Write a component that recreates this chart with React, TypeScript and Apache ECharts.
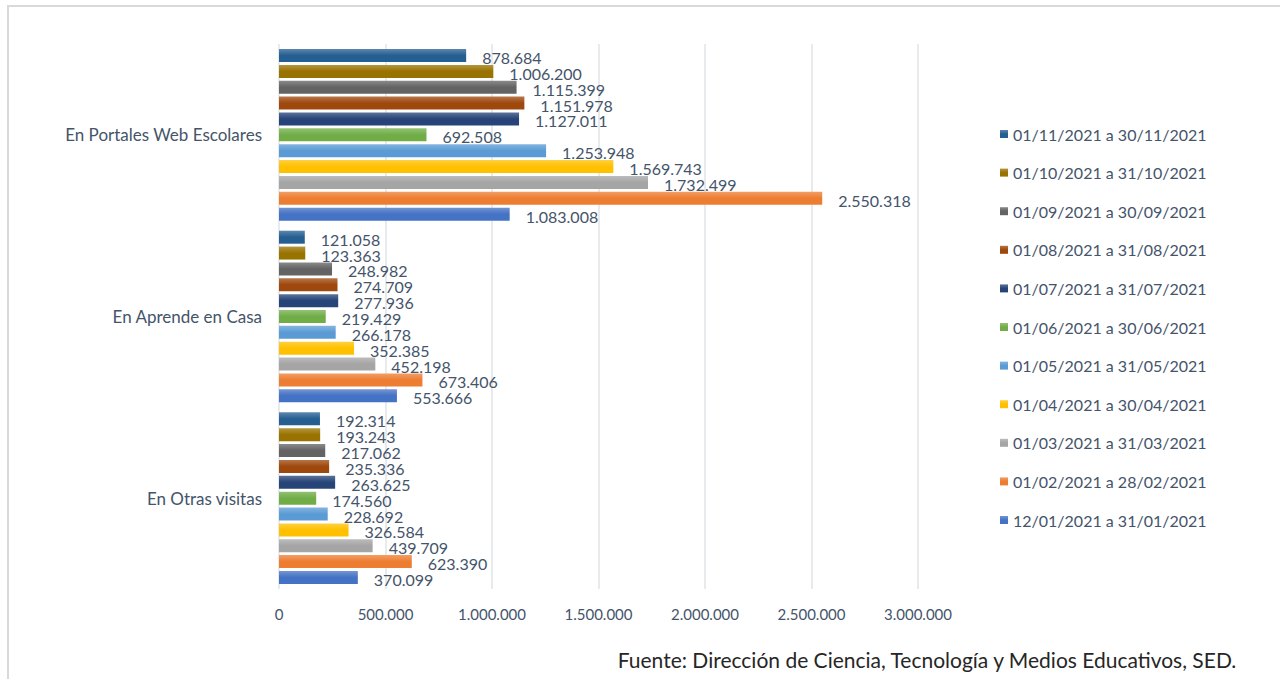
import React, { useEffect, useRef } from "react";
import * as echarts from "echarts";

const categories = ["En Portales Web Escolares", "En Aprende en Casa", "En Otras visitas"];

const seriesNames = [
  "01/11/2021 a 30/11/2021",
  "01/10/2021 a 31/10/2021",
  "01/09/2021 a 30/09/2021",
  "01/08/2021 a 31/08/2021",
  "01/07/2021 a 31/07/2021",
  "01/06/2021 a 30/06/2021",
  "01/05/2021 a 31/05/2021",
  "01/04/2021 a 30/04/2021",
  "01/03/2021 a 31/03/2021",
  "01/02/2021 a 28/02/2021",
  "12/01/2021 a 31/01/2021",
];

const seriesColors = [
  "#255E91", "#997300", "#636363", "#9E480E", "#264478", "#70AD47",
  "#5B9BD5", "#FFC000", "#A5A5A5", "#ED7D31", "#4472C4",
];

// values per series: [Portales, Aprende, Otras]
const values = [
  [878684, 121058, 192314],
  [1006200, 123363, 193243],
  [1115399, 248982, 217062],
  [1151978, 274709, 235336],
  [1127011, 277936, 263625],
  [692508, 219429, 174560],
  [1253948, 266178, 228692],
  [1569743, 352385, 326584],
  [1732499, 452198, 439709],
  [2550318, 673406, 623390],
  [1083008, 553666, 370099],
];

const footer = "Fuente: Dirección de Ciencia, Tecnología y Medios Educativos, SED.";

const fmt = (v: number) => String(Math.round(v)).replace(/\B(?=(\d{3})+(?!\d))/g, ".");

function lighten(hex: string, amt: number) {
  const n = parseInt(hex.slice(1), 16);
  const r = (n >> 16) & 255, g = (n >> 8) & 255, b = n & 255;
  const f = (c: number) => Math.round(c + (255 - c) * amt);
  return `rgb(${f(r)},${f(g)},${f(b)})`;
}

const textColor = "#44546A";
const FONT = "Lato, 'Noto Sans', sans-serif";

export default function App() {
  const ref = useRef<HTMLDivElement>(null);
  useEffect(() => {
    if (!ref.current) return;
    const chart = echarts.init(ref.current, null, { renderer: "svg" });
    chart.setOption({
      animation: false,
      backgroundColor: "#ffffff",
      textStyle: { fontFamily: FONT },
      grid: { left: 279, right: 362, top: 44, bottom: 90, containLabel: false },
      legend: {
        orient: "vertical",
        left: 995,
        top: 120,
        itemWidth: 8,
        itemHeight: 8,
        itemGap: 20.6,
        icon: "rect",
        textStyle: { color: textColor, fontSize: 16, lineHeight: 18, fontFamily: FONT },
        data: seriesNames,
      },
      xAxis: {
        type: "value",
        min: 0,
        max: 3000000,
        interval: 500000,
        axisLine: { show: false },
        axisTick: { show: false },
        splitLine: { show: true, lineStyle: { color: "#E1E4E8", width: 1.5 } },
        axisLabel: {
          color: textColor,
          fontSize: 15,
          margin: 17,
          fontFamily: FONT,
          formatter: (v: number) => fmt(v),
        },
      },
      yAxis: {
        type: "category",
        inverse: true,
        data: categories,
        axisLine: { show: false },
        axisTick: { show: false },
        axisLabel: { color: textColor, fontSize: 17, margin: 17, fontFamily: FONT },
      },
      series: seriesNames.map((name, i) => ({
        name,
        type: "bar",
        data: values[i],
        barWidth: 13,
        barGap: "22%",
        itemStyle: {
          color: new echarts.graphic.LinearGradient(0, 0, 0, 1, [
            { offset: 0, color: lighten(seriesColors[i], 0.25) },
            { offset: 0.5, color: seriesColors[i] },
            { offset: 1, color: seriesColors[i] },
          ]),
        },
        label: {
          show: true,
          position: "right",
          distance: 16,
          color: textColor,
          fontSize: 16,
          fontFamily: FONT,
          offset: [0, 2],
          formatter: (p: any) => fmt(p.value),
        },
      })),
      graphic: [
        {
          type: "line",
          shape: { x1: 8, y1: 6, x2: 1280, y2: 6 },
          style: { stroke: "#D9D9D9", lineWidth: 2 },
        },
        {
          type: "line",
          shape: { x1: 8, y1: 5, x2: 8, y2: 679 },
          style: { stroke: "#D9D9D9", lineWidth: 2 },
        },
        {
          type: "text",
          right: 42,
          top: 649,
          style: { text: footer, fill: "#262626", fontSize: 21, fontFamily: FONT },
        },
      ],
    });
    return () => chart.dispose();
  }, []);
  return (
    <div
      ref={ref}
      style={{ position: "absolute", left: 0, top: 0, width: 1280, height: 679 }}
    />
  );
}
